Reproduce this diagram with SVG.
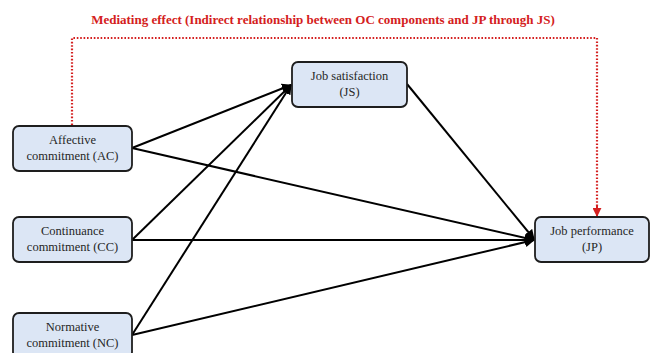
<svg xmlns="http://www.w3.org/2000/svg" width="653" height="353" viewBox="0 0 653 353">
  <style>
    .box { fill: #dce6f5; stroke: #1e1e1e; stroke-width: 1.8; }
    .lbl { font-family: "Liberation Serif", "Times New Roman", serif; font-size: 12.5px; fill: #262626; text-anchor: middle; }
    .edge { stroke: #000; stroke-width: 2; fill: none; marker-end: url(#arr); }
    .med { stroke: #d42020; stroke-width: 2.2; stroke-dasharray: 1.6 1.8; fill: none; }
    .title { font-family: "Liberation Serif", "Times New Roman", serif; font-size: 13px; font-weight: bold; fill: #d42020; text-anchor: middle; }
  </style>
  <defs>
    <marker id="arr" viewBox="0 0 10 10" refX="9" refY="5" markerWidth="5" markerHeight="5" orient="auto" markerUnits="strokeWidth">
      <path d="M0,0 L10,5 L0,10 z" fill="#000"/>
    </marker>
    <marker id="arrRed" viewBox="0 0 10 10" refX="9" refY="5" markerWidth="4.5" markerHeight="4.5" orient="auto" markerUnits="strokeWidth">
      <path d="M0,0 L10,5 L0,10 z" fill="#d42020"/>
    </marker>
  </defs>

  <text class="title" x="323" y="24">Mediating effect (Indirect relationship between OC components and JP through JS)</text>

  <g id="connectors">
    <!-- dotted mediation path from AC over the top to JP -->
    <path class="med" d="M72,125 L72,38 L597,38 L597,208"/>
    <path d="M597,206 L597,216" stroke="#d42020" stroke-width="2" fill="none" marker-end="url(#arrRed)"/>
    <line class="edge" x1="132" y1="148" x2="291" y2="85"/>
    <line class="edge" x1="132" y1="148" x2="534" y2="240"/>
    <line class="edge" x1="132" y1="240" x2="291" y2="85"/>
    <line class="edge" x1="132" y1="240" x2="534" y2="240"/>
    <line class="edge" x1="132" y1="335" x2="291" y2="85"/>
    <line class="edge" x1="132" y1="335" x2="534" y2="240"/>
    <line class="edge" x1="407" y1="84" x2="534" y2="239"/>
  </g>

  <g id="ac">
    <rect class="box" x="13" y="126" width="119" height="45" rx="6"/>
    <text class="lbl" x="72.5" y="144">Affective</text>
    <text class="lbl" x="72.5" y="160">commitment (AC)</text>
  </g>
  <g id="cc">
    <rect class="box" x="13" y="217" width="119" height="45" rx="6"/>
    <text class="lbl" x="72.5" y="235">Continuance</text>
    <text class="lbl" x="72.5" y="251">commitment (CC)</text>
  </g>
  <g id="nc">
    <rect class="box" x="13" y="313" width="119" height="45" rx="6"/>
    <text class="lbl" x="72.5" y="331">Normative</text>
    <text class="lbl" x="72.5" y="347">commitment (NC)</text>
  </g>
  <g id="js">
    <rect class="box" x="292" y="62" width="115" height="45" rx="6"/>
    <text class="lbl" x="349.5" y="80">Job satisfaction</text>
    <text class="lbl" x="349.5" y="96">(JS)</text>
  </g>
  <g id="jp">
    <rect class="box" x="535" y="217" width="114" height="45" rx="6"/>
    <text class="lbl" x="592" y="235">Job performance</text>
    <text class="lbl" x="592" y="251">(JP)</text>
  </g>
</svg>
